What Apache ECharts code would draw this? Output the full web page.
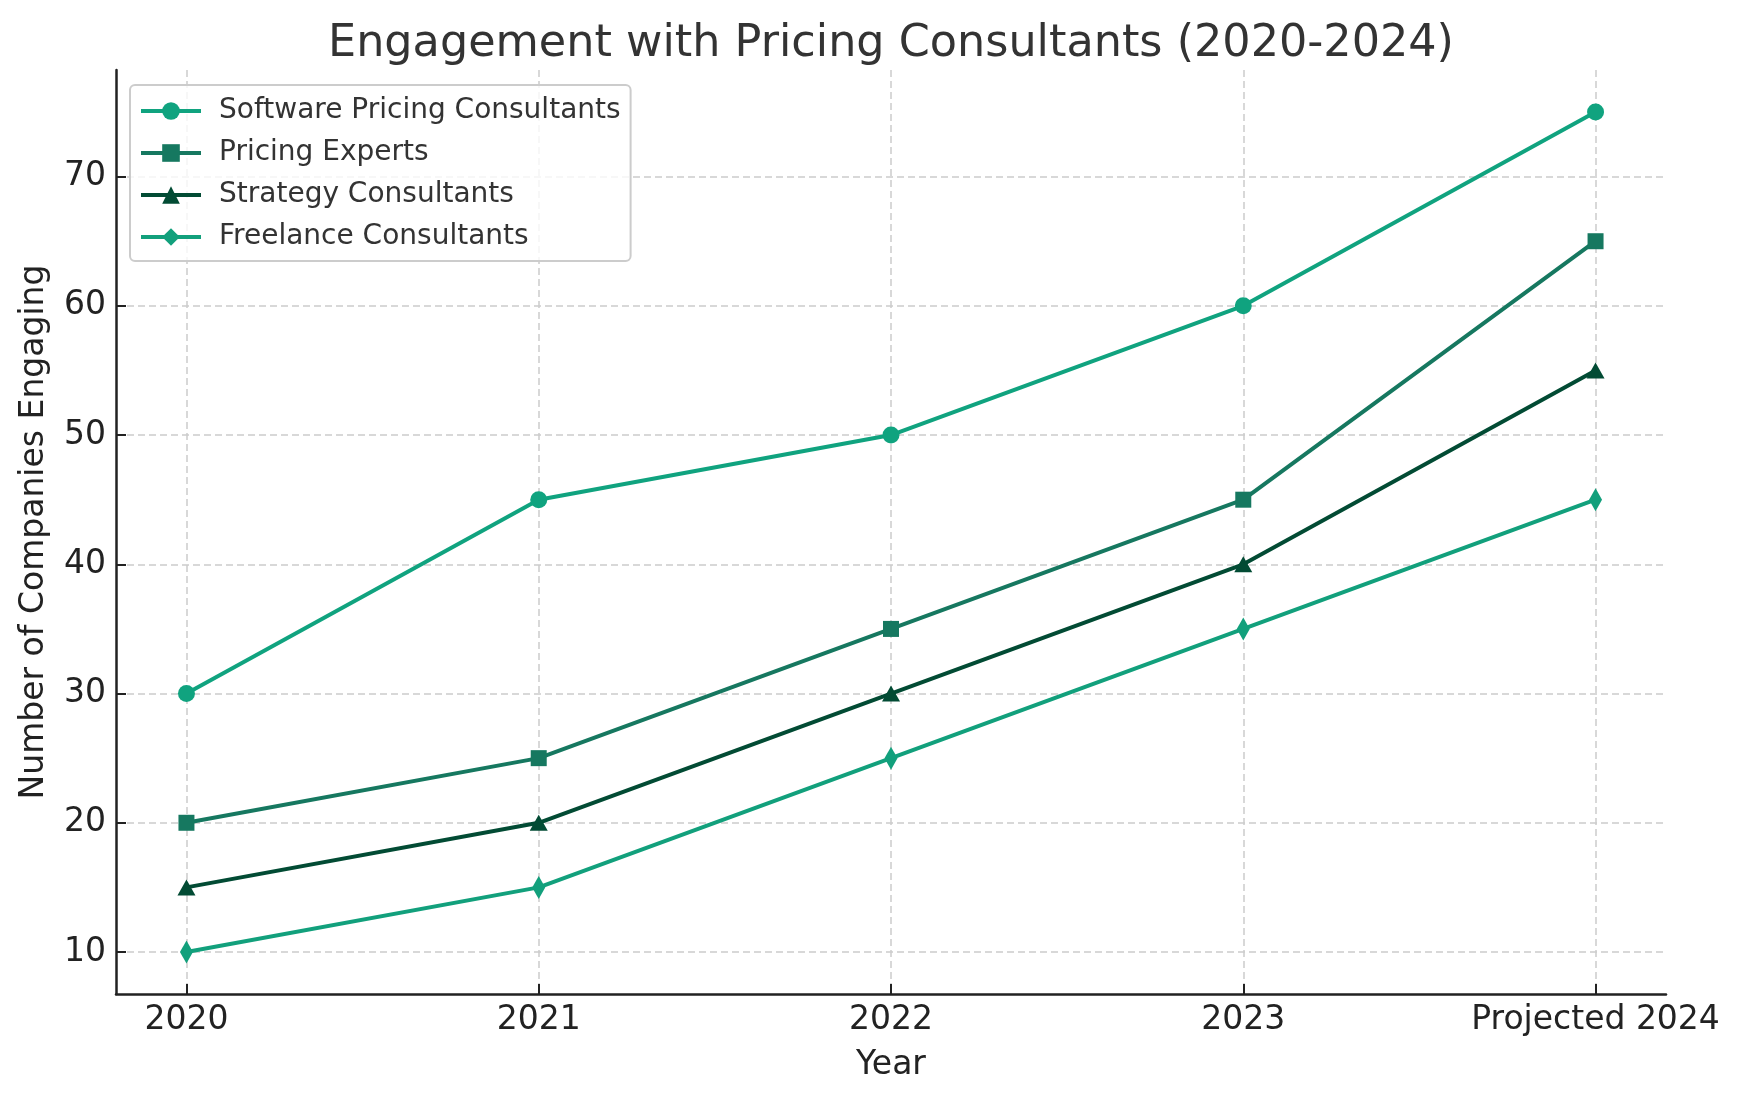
<!DOCTYPE html>
<html>
<head>
<meta charset="utf-8">
<script src="https://cdn.jsdelivr.net/npm/echarts@6/dist/echarts.min.js"></script>
<style>
  html, body { margin: 0; padding: 0; background: #fff; }
  #main { width: 1741px; height: 1101px; }
</style>
</head>
<body>
<div id="main"></div>
<script>
// 年份 (x 轴类目)
var years = ['2020', '2021', '2022', '2023', 'Projected 2024'];
var yTicks = [10, 20, 30, 40, 50, 60, 70];

var softwareConsultants = [30, 45, 50, 60, 75];
var pricingExperts = [20, 25, 35, 45, 65];
var strategyConsultants = [15, 20, 30, 40, 55];
var freelanceConsultants = [10, 15, 25, 35, 45];

var FONT = 'DejaVu Sans';

function toPairs(arr) {
    return arr.map(function (v, i) { return [i, v]; });
}

function makeSeries(name, data, color, symbol, size) {
    return {
        name: name,
        type: 'line',
        data: toPairs(data),
        symbol: symbol,
        symbolSize: size,
        showSymbol: true,
        lineStyle: { color: color, width: 4 },
        itemStyle: { color: color },
        emphasis: { disabled: true },
        animation: false
    };
}

var myChart = echarts.init(document.getElementById('main'));

var option = {
    backgroundColor: '#ffffff',
    title: {
        text: 'Engagement with Pricing Consultants (2020-2024)',
        left: 891,
        textAlign: 'center',
        top: 22,
        padding: 0,
        textStyle: { fontFamily: FONT, fontSize: 44.5, fontWeight: 'normal', color: '#333333' }
    },
    legend: {
        orient: 'vertical',
        left: 130,
        top: 85,
        padding: [12, 10, 10, 9],
        itemWidth: 60,
        itemHeight: 22,
        itemGap: 14,
        borderColor: '#cccccc',
        borderWidth: 2,
        borderRadius: 5,
        backgroundColor: 'rgba(255,255,255,0.8)',
        lineStyle: { width: 4 },
        textStyle: { fontFamily: FONT, fontSize: 28, color: '#333333', padding: [0, 0, 0, 13] },
        data: ['Software Pricing Consultants', 'Pricing Experts', 'Strategy Consultants', 'Freelance Consultants']
    },
    grid: {
        left: 116,
        right: 75,
        top: 70,
        bottom: 107
    },
    xAxis: {
        type: 'value',
        min: -0.2,
        max: 4.2,
        name: 'Year',
        nameLocation: 'middle',
        nameGap: 55,
        nameTextStyle: { fontFamily: FONT, fontSize: 33, color: '#222222' },
        axisLine: { show: true, onZero: false, lineStyle: { color: '#222222', width: 2.5 } },
        axisTick: { show: true, inside: true, length: 10, customValues: [0, 1, 2, 3, 4], lineStyle: { color: '#222222', width: 2 } },
        axisLabel: {
            customValues: [0, 1, 2, 3, 4],
            margin: 10,
            fontFamily: FONT, fontSize: 33, color: '#222222',
            formatter: function (v) { return years[Math.round(v)]; }
        },
        splitLine: { show: true, lineStyle: { color: '#cccccc', width: 1.5, type: [7, 4] } }
    },
    yAxis: {
        type: 'value',
        min: 6.75,
        max: 78.25,
        name: 'Number of Companies Engaging',
        nameLocation: 'middle',
        nameGap: 65,
        nameTextStyle: { fontFamily: FONT, fontSize: 33, color: '#222222' },
        axisLine: { show: true, onZero: false, lineStyle: { color: '#222222', width: 2.5 } },
        axisTick: { show: true, inside: true, length: 10, customValues: yTicks, lineStyle: { color: '#222222', width: 2 } },
        axisLabel: { customValues: yTicks, margin: 10, fontFamily: FONT, fontSize: 33, color: '#222222' },
        splitLine: { show: true, lineStyle: { color: '#cccccc', width: 1.5, type: [7, 4] } }
    },
    series: [
        makeSeries('Software Pricing Consultants', softwareConsultants, '#10a37f', 'circle', 17),
        makeSeries('Pricing Experts', pricingExperts, '#167860', 'rect', 16),
        makeSeries('Strategy Consultants', strategyConsultants, '#024b34', 'triangle', [18, 16]),
        makeSeries('Freelance Consultants', freelanceConsultants, '#12a07c', 'diamond', [13, 23])
    ]
};

myChart.setOption(option);
</script>
</body>
</html>
